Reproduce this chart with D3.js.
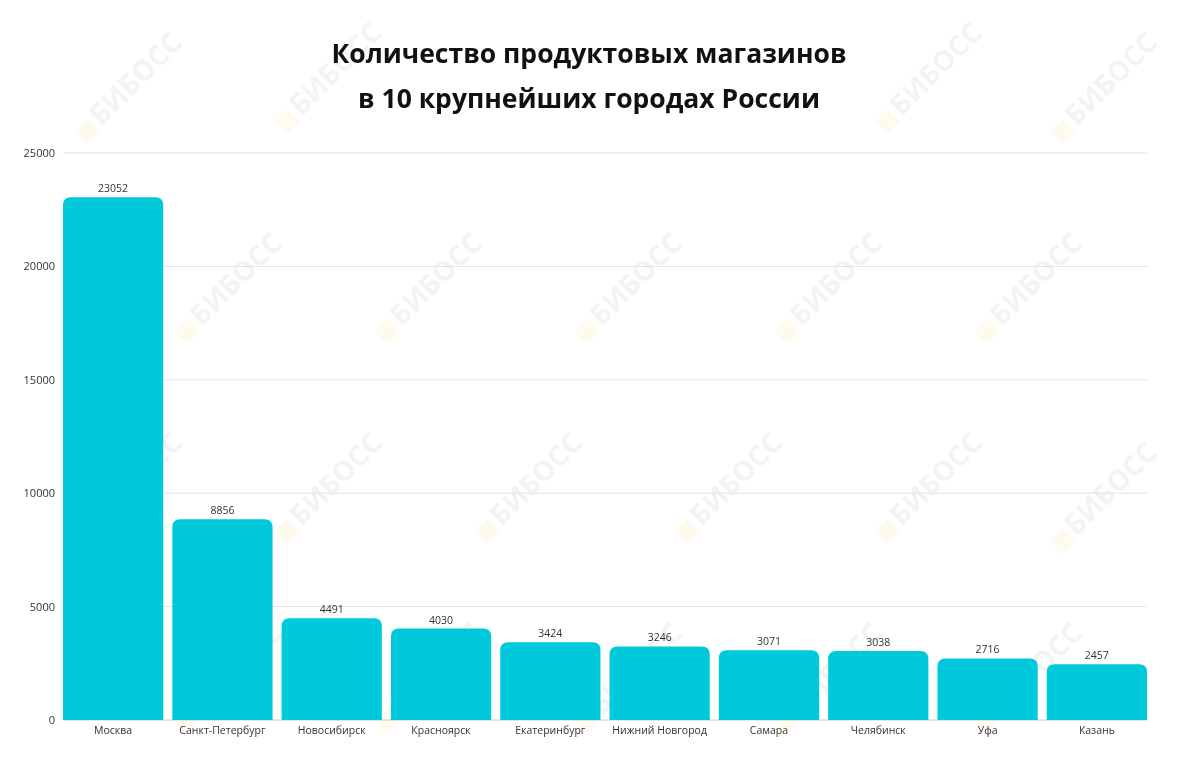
<!DOCTYPE html>
<html><head><meta charset="utf-8">
<script src="https://cdn.jsdelivr.net/npm/d3@7"></script>
<style>body{margin:0;background:#fff;}svg{display:block;}</style>
</head><body>
<script>
const cities = ["Москва","Санкт-Петербург","Новосибирск","Красноярск","Екатеринбург","Нижний Новгород","Самара","Челябинск","Уфа","Казань"];
const stores = [23052,8856,4491,4030,3424,3246,3071,3038,2716,2457];
const yTicks = [0,5000,10000,15000,20000,25000];
const titleLines = ["Количество продуктовых магазинов","в 10 крупнейших городах России"];

const W=1180,H=761;
const svg=d3.select("body").append("svg").attr("width",W).attr("height",H);
const font="'Open Sans', 'Noto Sans', sans-serif";

// watermark
const wm=svg.append("g").attr("opacity",0.07);
const spots=[[110,110],[310,100],[910,100],[1085,110],[210,310],[410,310],[610,310],[810,310],[1010,310],[110,510],[310,510],[510,510],[710,510],[910,510],[1085,520],[210,700],[410,700],[610,700],[810,700],[1010,700]];
spots.forEach(([sx,sy])=>{
  const g=wm.append("g").attr("transform",`translate(${sx},${sy}) rotate(-45)`);
  g.append("rect").attr("x",-40).attr("y",-10).attr("width",18).attr("height",18).attr("fill","#f5b400");
  g.append("text").attr("x",-18).attr("y",6).attr("font-family",font).attr("font-weight",700).attr("font-size",28).attr("fill","#555").text("БИБОСС");
});

const x=d3.scaleBand().domain(cities).range([63,1147]).paddingInner(0.083).paddingOuter(0);
const y=d3.scaleLinear().domain([0,25000]).range([720,153]);

svg.append("g").selectAll("line").data(yTicks).join("line")
  .attr("x1",63).attr("x2",1147).attr("y1",d=>y(d)).attr("y2",d=>y(d))
  .attr("stroke",d=>d===0?"#ccc":"#e3e3e3").attr("stroke-width",1);
svg.append("g").selectAll("text").data(yTicks).join("text")
  .attr("x",55).attr("y",d=>y(d)+4).attr("text-anchor","end")
  .attr("font-family",font).attr("font-size",11).attr("fill","#333").text(d=>d);

const r=8;
svg.append("g").selectAll("path").data(stores).join("path")
  .attr("fill","#00c9dc")
  .attr("d",(d,i)=>{
    const x0=x(cities[i]),w=x.bandwidth(),y0=y(d),y1=y(0);
    return `M${x0},${y1}V${y0+r}Q${x0},${y0} ${x0+r},${y0}H${x0+w-r}Q${x0+w},${y0} ${x0+w},${y0+r}V${y1}Z`;
  });

svg.append("g").selectAll("text").data(stores).join("text")
  .attr("x",(d,i)=>x(cities[i])+x.bandwidth()/2).attr("y",d=>y(d)-5)
  .attr("text-anchor","middle").attr("font-family",font).attr("font-size",10.5).attr("fill","#333").text(d=>d);

svg.append("g").selectAll("text").data(cities).join("text")
  .attr("x",d=>x(d)+x.bandwidth()/2).attr("y",734)
  .attr("text-anchor","middle").attr("font-family",font).attr("font-size",10.5).attr("fill","#333").text(d=>d);

svg.append("g").selectAll("text").data(titleLines).join("text")
  .attr("x",589).attr("y",(d,i)=>63+i*45).attr("text-anchor","middle")
  .attr("font-family",font).attr("font-weight",700).attr("font-size",26.5).attr("fill","#111").text(d=>d);
</script>
</body></html>
